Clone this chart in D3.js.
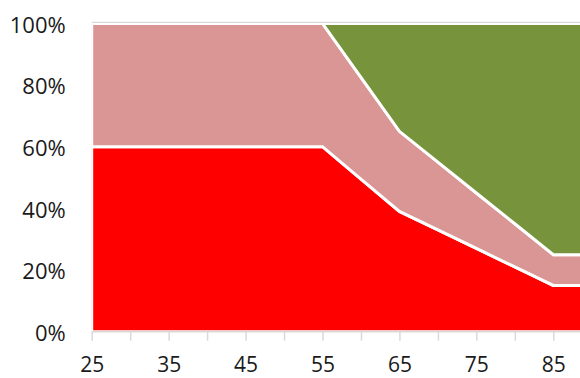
<!DOCTYPE html>
<html><head><meta charset="utf-8">
<script src="https://cdn.jsdelivr.net/npm/d3@7"></script>
<style>
html,body{margin:0;padding:0;background:#fff;}
svg{display:block;}
text{font-family:"Open Sans",sans-serif;}
</style></head>
<body>
<svg id="chart" width="580" height="378"></svg>
<script>
const categories = [25,30,35,40,45,50,55,60,65,70,75,80,85,90];
const seriesRed   = [60,60,60,60,60,60,60,49.5,39,33,27,21,15,15];
const seriesPink  = [40,40,40,40,40,40,40,33,26,22,18,14,10,10];
const seriesGreen = [ 0, 0, 0, 0, 0, 0, 0,17.5,35,45,55,65,75,75];
const seriesNames = ["red","pink","green"];
const seriesColors = ["#FF0000","#D99694","#77933C"];
const xTickLabels = [25,35,45,55,65,75,85];
const yTickLabels = [0,0.2,0.4,0.6,0.8,1];

const svg = d3.select("#chart");
const x = d3.scaleLinear().domain([25,85]).range([91.7,553.3]);
const y = d3.scaleLinear().domain([0,1]).range([331.7,23.4]);

const table = categories.map((c,i)=>({cat:c, red:seriesRed[i], pink:seriesPink[i], green:seriesGreen[i]}));
const stack = d3.stack().keys(seriesNames).offset(d3.stackOffsetExpand);
const layers = stack(table);

svg.append("clipPath").attr("id","plotclip").append("rect")
  .attr("x",x(25)).attr("y",y(1)-2).attr("width",580-x(25)).attr("height",y(0)-y(1)+2);

const area = d3.area().x(d=>x(d.data.cat)).y0(d=>y(d[0])).y1(d=>y(d[1]));
const g = svg.append("g").attr("clip-path","url(#plotclip)");
g.selectAll("path.area").data(layers).join("path")
  .attr("class","area")
  .attr("d",area)
  .attr("fill",(d,i)=>seriesColors[i])
  .attr("stroke","#fff").attr("stroke-width",3).attr("stroke-linejoin","miter");

// top gridline
svg.append("line").attr("x1",x(25)).attr("x2",580).attr("y1",y(1)-1).attr("y2",y(1)-1)
  .attr("stroke","#d9d9d9").attr("stroke-width",1.2);

// x axis
const xAxis = d3.axisBottom(x).tickValues(categories).tickSize(9).tickFormat(d=>xTickLabels.includes(d)?d:"");
const xa = svg.append("g").attr("transform",`translate(0,${y(0)})`).call(xAxis);
xa.select(".domain").attr("stroke","#d9d9d9").attr("stroke-width",1.5).attr("d",`M${x(25)},0H580`);
xa.selectAll(".tick line").attr("stroke","#d9d9d9").attr("stroke-width",1.5);
xa.selectAll(".tick text").attr("y",0).attr("dy",0).attr("transform","translate(0,40)")
  .style("font-size","21px").style("font-weight","400").style("font-family","'Open Sans',sans-serif").style("fill","#1a1a1a");

// y axis labels
const yAxis = d3.axisLeft(y).tickValues(yTickLabels).tickSize(0).tickPadding(26).tickFormat(d3.format(".0%"));
const ya = svg.append("g").attr("transform",`translate(${x(25)},0)`).call(yAxis);
ya.select(".domain").remove();
ya.selectAll(".tick text").attr("dy","0.4em")
  .style("font-size","22px").style("font-weight","400").style("font-family","'Open Sans',sans-serif").style("fill","#1a1a1a");
</script>
</body></html>
